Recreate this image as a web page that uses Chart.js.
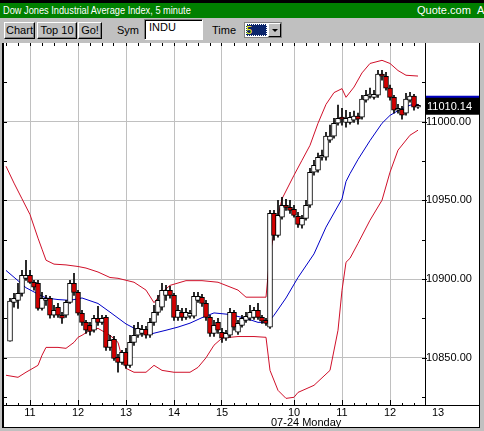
<!DOCTYPE html>
<html><head><meta charset="utf-8">
<script src="https://cdn.jsdelivr.net/npm/chart.js@4.4.1/dist/chart.umd.min.js"></script>
<style>
html,body{margin:0;padding:0;background:#c0c0c0;width:484px;height:431px;overflow:hidden;font-family:"Liberation Sans",Arial,sans-serif;}
#wrap{position:absolute;left:0;top:0;width:484px;height:431px;}
#topbar{position:absolute;left:0;top:0;width:484px;height:3px;background:#000;}
#title{position:absolute;left:0;top:3px;width:484px;height:15px;background:#008000;color:#fff;font-size:11px;line-height:15px;white-space:nowrap;overflow:hidden;}
#title .l{position:absolute;left:3px;top:0;transform:scaleX(0.84);transform-origin:0 0;}
#title .r{position:absolute;left:417px;top:0;}
#tool{position:absolute;left:0;top:18px;width:484px;height:25px;background:#c0c0c0;}
.btn{position:absolute;top:4px;height:17px;box-sizing:border-box;border-top:1px solid #fff;border-left:1px solid #fff;border-right:1px solid #000;border-bottom:1px solid #000;box-shadow:inset -1px -1px 0 #808080;font-size:11px;line-height:15px;text-align:center;color:#000;background:#c0c0c0;}
.lbl{position:absolute;top:5px;font-size:11px;line-height:15px;color:#000;}
#sym{position:absolute;left:144px;top:1px;width:59px;height:21px;box-sizing:border-box;background:#fff;border-top:1px solid #808080;border-left:1px solid #808080;border-right:1px solid #fff;border-bottom:1px solid #fff;box-shadow:inset 1px 1px 0 #000;font-size:11px;line-height:15px;padding-left:4px;}
#sel{position:absolute;left:244px;top:4px;width:38px;height:16px;box-sizing:border-box;background:#fff;border:1px solid #808080;}
#sel .v{position:absolute;left:1px;top:1px;width:21px;height:12px;background:#0a246a;color:#ff0;font-size:11px;line-height:12px;outline:1px dotted #fff;outline-offset:-1px;}
#sel .b{position:absolute;left:23px;top:0px;width:13px;height:14px;box-sizing:border-box;background:#c0c0c0;border-top:1px solid #fff;border-left:1px solid #fff;border-right:1px solid #000;border-bottom:1px solid #000;}
#sel .b:after{content:"";position:absolute;left:3px;top:5px;border-left:3px solid transparent;border-right:3px solid transparent;border-top:3px solid #000;}
canvas{position:absolute;left:0;top:0;}
</style></head>
<body><div id="wrap">
<canvas id="c" width="484" height="431"></canvas>
<div id="topbar"></div>
<div id="title"><span class="l">Dow Jones Industrial Average Index, 5 minute</span><span class="r">Quote.com&nbsp;&nbsp;A</span></div>
<div id="tool">
  <div class="btn" style="left:4px;width:31px;">Chart</div>
  <div class="btn" style="left:37px;width:40px;">Top 10</div>
  <div class="btn" style="left:78px;width:24px;">Go!</div>
  <div class="lbl" style="left:117px;">Sym</div>
  <div id="sym">INDU</div>
  <div class="lbl" style="left:212px;">Time</div>
  <div id="sel"><div class="v">5</div><div class="b"></div></div>
</div>
</div>
<script>
// ---- data (5-minute bars; bar index 0 = 10:30 previous day, 66 = 9:30 on 07-24) ----
const firstBar = 1;
const opens  = [10860.5,10885.2,10886.5,10890.9,10900.5,10902.4,10897.9,10897.3,10881.4,10886.5,10887.8,10877.0,10882.1,10877.0,10877.0,10885.2,10897.3,10891.6,10878.3,10872.5,10870.6,10867.5,10875.1,10872.5,10875.7,10856.6,10861.7,10850.3,10847.1,10853.5,10845.2,10859.8,10864.3,10865.5,10868.1,10864.3,10872.5,10878.9,10882.1,10889.7,10892.9,10889.7,10875.7,10878.9,10875.7,10876.4,10876.4,10886.5,10888.4,10884.6,10875.7,10865.5,10872.5,10866.2,10862.4,10864.3,10878.9,10866.2,10870.6,10873.8,10875.1,10875.7,10880.2,10875.7,10873.8,10869.4,10941.8,10927.8,10939.3,10946.9,10945.6,10944.4,10939.9,10934.2,10938.6,10946.9,10967.9,10969.2,10977.4,10977.4,10988.2,10990.8,10999.0,11002.8,10999.6,10999.6,11000.9,11003.5,11002.8,11013.6,11016.2,11015.5,11016.8,11030.2,11028.9,11021.3,11015.5,11007.3,11007.9,11005.4,11013.6,11016.2,11009.2];
const highs  = [10887.8,10890.9,10897.3,10905.6,10911.9,10905.6,10899.2,10899.2,10891.6,10889.7,10889.1,10883.3,10884.6,10878.9,10886.5,10899.2,10903.7,10892.9,10880.2,10873.8,10872.5,10877.0,10882.7,10877.0,10877.0,10864.3,10863.6,10852.2,10854.7,10856.0,10864.3,10870.6,10872.5,10870.6,10870.0,10875.1,10883.3,10889.7,10897.3,10896.0,10895.4,10890.9,10883.3,10881.4,10881.4,10880.2,10891.6,10891.6,10890.3,10886.5,10877.0,10873.8,10875.1,10868.7,10867.5,10881.4,10880.2,10873.8,10877.0,10878.9,10883.3,10882.1,10884.6,10877.0,10875.1,10943.7,10943.7,10950.1,10952.0,10950.7,10950.1,10946.9,10942.4,10940.5,10950.1,10970.4,10975.5,10980.0,10981.9,10993.3,10997.8,11002.2,11010.5,11008.5,11007.3,11006.0,11006.7,11005.4,11016.8,11020.0,11021.3,11020.0,11032.7,11032.7,11031.4,11023.2,11016.8,11011.1,11009.8,11018.1,11018.7,11017.4,11011.1];
const lows   = [10860.5,10882.1,10881.4,10889.1,10899.2,10897.3,10892.9,10880.2,10880.2,10883.3,10875.1,10875.7,10875.7,10871.9,10875.7,10884.6,10889.7,10877.0,10870.6,10865.5,10864.3,10866.2,10870.6,10871.2,10854.7,10854.7,10848.4,10840.8,10845.8,10843.3,10843.9,10857.9,10863.0,10863.6,10862.4,10863.0,10870.6,10877.0,10880.2,10886.5,10887.8,10873.8,10873.8,10873.8,10874.4,10875.1,10875.1,10885.2,10882.7,10873.8,10863.6,10863.6,10865.5,10859.8,10861.1,10863.0,10867.5,10864.9,10869.4,10872.5,10873.8,10874.4,10874.4,10871.9,10870.6,10868.7,10924.7,10926.6,10938.0,10943.7,10941.8,10939.3,10932.9,10932.3,10937.4,10945.6,10966.0,10967.9,10975.5,10975.5,10986.9,10989.5,10997.8,10997.8,10996.5,10998.4,10999.6,10998.4,11001.6,11012.4,11014.9,11014.3,11015.5,11026.4,11020.0,11013.6,11005.4,11005.4,11001.6,11004.1,11012.4,11007.3,11008.5];
const closes = [10886.1,10887.8,10890.9,10902.4,10902.4,10897.9,10894.8,10881.4,10887.8,10887.8,10877.0,10880.2,10877.0,10875.1,10885.2,10897.3,10891.6,10878.3,10872.5,10867.5,10866.8,10875.1,10872.5,10875.1,10856.6,10861.1,10849.6,10847.1,10853.5,10845.2,10859.8,10864.3,10868.7,10868.1,10864.3,10872.5,10878.9,10886.5,10892.9,10892.9,10889.7,10875.7,10880.2,10875.7,10878.9,10878.3,10889.1,10889.1,10884.6,10875.7,10865.5,10870.6,10867.5,10862.4,10865.5,10878.9,10869.4,10871.9,10875.1,10876.4,10878.9,10880.2,10875.7,10873.2,10871.9,10941.8,10927.8,10940.5,10946.9,10945.6,10943.7,10940.5,10934.8,10938.6,10946.9,10967.9,10972.3,10977.4,10978.7,10990.8,10990.8,10999.0,11002.2,11001.6,11002.2,11002.8,11003.5,11001.6,11014.3,11016.8,11017.4,11017.4,11030.2,11028.9,11021.3,11015.5,11007.3,11008.5,11004.1,11014.3,11016.2,11009.2,11010.14];

// Bollinger bands (upper / lower) and 20-bar average, read at bar indices
const upperIdx = [0,2,4,6,8,9,10,12,15,18,20,23,26,28,32,35,37,39,41,45,49,53,58,60,65,66,67,69,72,74,76,78,80,82,84,85,87,89,91,94,96,98,100,103];
const upperVal = [10971.7,10961,10951,10941,10926,10919,10912,10909.5,10909,10908,10907,10904.5,10901,10900.5,10898,10893,10885,10891.5,10896,10899,10899,10898,10893,10888.5,10888.5,10916,10929,10951,10966,10975.5,10985,10999,11011,11018.5,11021,11015.5,11022,11031,11037,11039,11037,11032.5,11029.5,11029];
const midIdx = [0,3,5,8,10,13,16,19,23,26,30,33,36,40,43,46,49,52,56,60,63,65,66,67,70,73,77,80,84,85,86,88,91,94,96,98,101,103];
const midVal = [10905.5,10899,10894.5,10890.5,10888,10887,10886.5,10888,10884.5,10879,10871.5,10867.5,10865,10867.5,10869.5,10872,10875.5,10878.5,10877.5,10875,10872.5,10872.5,10874,10877,10888,10901,10916,10933,10951,10962,10967,10976,10988,10999,11004,11007,11010.5,11011];
const lowerIdx = [0,3,5,8,9,10,13,15,17,18,19,21,23,26,28,29,30,32,35,37,39,42,46,48,50,52,54,58,62,65,66,68,70,72,73,77,81,83,84,85,86,88,91,94,96,98,101,103];
const lowerVal = [10838.9,10837.6,10840.8,10845.2,10851.6,10856.6,10856.6,10856,10859.8,10863,10864.3,10867.5,10868.7,10864.3,10859.8,10850,10843.3,10840.8,10840.8,10845.2,10842,10840.8,10840.8,10843.9,10850,10858,10862.5,10863.5,10863.5,10863,10842,10829.3,10824.2,10824.9,10828,10832.5,10842,10867.5,10892.9,10910.7,10913.2,10922.7,10937.4,10950.1,10967.9,10981.9,10991.4,10994.6];

// axes
const yMin = 10820, yMax = 11050;
const yLabelValues = [10850, 10900, 10950, 11000];
const yMinorValues = [10825,10875,10925,10975,11025];
const hourIdx = [6, 18, 30, 42, 54, 72, 84, 96, 108];
const hourLabels = ['11','12','13','14','15','10','11','12','13'];
const dayStartIdx = 66;
const dayLabel = '07-24 Monday';
const lastPrice = 11010.14;
const FONT = '11px "Liberation Sans", Arial, sans-serif';

// ---- build datasets ----
const bodies = [], wicks = [], bodyColors = [];
for (let k = 0; k < closes.length; k++) {
  const x = firstBar + k;
  bodies.push({x, y: [Math.min(opens[k], closes[k]), Math.max(opens[k], closes[k])]});
  wicks.push({x, y: [lows[k], highs[k]]});
  bodyColors.push(closes[k] < opens[k] ? '#d40000' : '#ffffff');
}
const pts = (ix, vals) => ix.map((x, k) => ({x, y: vals[k]}));

const frame = {
  id: 'frame',
  beforeDraw(chart) {
    const c = chart.ctx, a = chart.chartArea;
    c.save();
    c.fillStyle = '#fff';
    c.fillRect(a.left - 2, a.top - 1, 482 - a.left, 429 - a.top);
    c.restore();
  },
  afterDraw(chart) {
    const c = chart.ctx, a = chart.chartArea, xs = chart.scales.x, ys = chart.scales.y;
    c.save();
    c.fillStyle = '#000';
    c.fillRect(a.left - 2, a.top - 1, 2, 428 - a.top + 1);
    c.fillRect(a.left - 2, a.top - 1, 482 - a.left, 1);
    c.fillRect(a.left, a.bottom, 479 - a.left, 1);
    c.fillRect(a.left - 2, 427, 482 - a.left, 1);
    c.fillRect(Math.round(a.right), a.top, 1, a.bottom - a.top + 1);
    for (let i = 0; i <= 104; i += 3) {
      c.fillRect(Math.floor(xs.getPixelForValue(i)), a.top, 1, 3);
      c.fillRect(Math.floor(xs.getPixelForValue(i)), a.bottom - 2, 1, 2);
    }
    hourIdx.forEach(i => {
      const px = Math.floor(xs.getPixelForValue(i));
      if (px < a.right) c.fillRect(px, a.bottom - 5, 1, 5);
    });
    [...yLabelValues, ...yMinorValues].forEach(v => {
      const py = Math.round(ys.getPixelForValue(v));
      c.fillRect(a.left, py, 3, 1);
      c.fillRect(Math.round(a.right) - 3, py, 3, 1);
    });
    yLabelValues.forEach(v => {
      const py = Math.round(ys.getPixelForValue(v));
      c.fillRect(Math.round(a.right), py, 2, 1);
    });
    c.font = FONT;
    c.fillStyle = '#000';
    c.textAlign = 'center';
    c.textBaseline = 'middle';
    hourIdx.forEach((i, k) => c.fillText(hourLabels[k], xs.getPixelForValue(i), a.bottom + 8));
    c.textAlign = 'left';
    c.fillText(dayLabel, xs.getPixelForValue(dayStartIdx) + 1, a.bottom + 18);
    const py = ys.getPixelForValue(lastPrice);
    c.fillStyle = '#000';
    c.fillRect(a.right + 1, py - 9, 56, 18);
    c.fillStyle = '#0000c0';
    c.fillRect(a.right + 1, py - 10, 56, 2);
    c.fillStyle = '#fff';
    c.fillText(lastPrice.toFixed(2), a.right + 2, py + 1);
    c.fillStyle = '#c0c0c0';
    c.fillRect(480, a.top, 4, 431 - a.top);
    c.fillRect(0, 428, 484, 3);
    c.fillStyle = '#000';
    c.fillRect(479, a.top, 1, 428 - a.top);
    c.restore();
  }
};

new Chart(document.getElementById('c'), {
  type: 'bar',
  data: {
    datasets: [
      {type: 'line', data: pts(upperIdx, upperVal), borderColor: '#d0102a', borderWidth: 1, pointRadius: 0, tension: 0, order: 5},
      {type: 'line', data: pts(lowerIdx, lowerVal), borderColor: '#d0102a', borderWidth: 1, pointRadius: 0, tension: 0, order: 5},
      {type: 'line', data: pts(midIdx, midVal), borderColor: '#0000c8', borderWidth: 1, pointRadius: 0, tension: 0, order: 4},
      {type: 'bar', data: wicks, backgroundColor: '#000', borderWidth: 0, barThickness: 1, grouped: false, order: 2},
      {type: 'bar', data: bodies, backgroundColor: bodyColors, borderColor: '#000', borderWidth: 1, borderSkipped: false, barThickness: 5, minBarLength: 2, grouped: false, order: 1}
    ]
  },
  options: {
    responsive: false, animation: false, devicePixelRatio: 1,
    layout: {padding: {top: 43, left: 4, bottom: 26, right: 0}},
    plugins: {legend: {display: false}, tooltip: {enabled: false}},
    scales: {
      x: {
        type: 'linear', min: -0.5, max: 104.75, offset: false,
        afterBuildTicks: s => { s.ticks = hourIdx.filter(v => v < 104.75).map(v => ({value: v})); },
        afterFit: s => { s.height = 0; },
        ticks: {display: false},
        grid: {color: '#c0c0c0', drawTicks: false, offset: false},
        border: {display: false}
      },
      y: {
        position: 'right', min: yMin, max: yMax,
        afterBuildTicks: s => { s.ticks = yLabelValues.map(v => ({value: v})); },
        afterFit: s => { s.width = 59; },
        ticks: {callback: v => Number(v).toFixed(2), color: '#000', padding: 1, font: {family: '"Liberation Sans", Arial, sans-serif', size: 11}},
        grid: {color: '#c0c0c0', drawTicks: false},
        border: {display: false}
      }
    }
  },
  plugins: [frame]
});
</script>
</body></html>
